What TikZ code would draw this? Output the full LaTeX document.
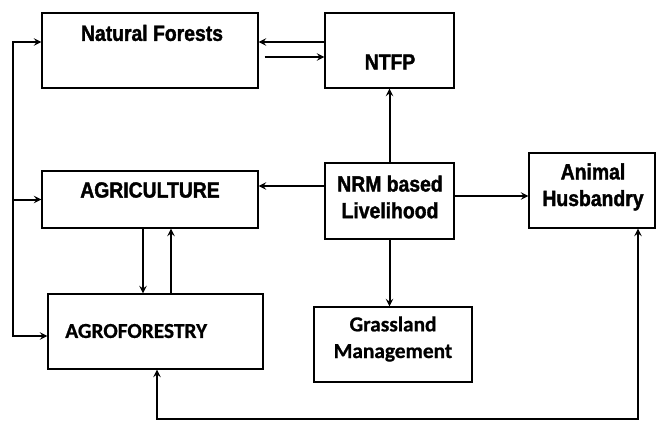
\documentclass[tikz,border=0pt]{standalone}
\usepackage{fontspec}
\setmainfont{Liberation Sans}
\newfontfamily\headfont{Liberation Sans}[FakeStretch=0.88, BoldFeatures={FakeBold=1.6}]
\newfontfamily\calfont{Carlito}[BoldFeatures={FakeBold=0.8}]
\tikzset{
  box/.style={draw, line width=0.8pt, inner sep=0pt},
  headtext/.style={font=\headfont\bfseries\fontsize{16.5}{20}\selectfont, align=center, inner sep=0pt},
  caltext/.style={font=\calfont\bfseries\fontsize{16}{20}\selectfont, align=center, inner sep=0pt},
  link/.style={->, line width=1.5pt}
}
\begin{document}
\begin{tikzpicture}[x=0.75pt,y=-0.75pt,>=stealth]
    \useasboundingbox (0,0) rectangle (656,421);
    % boxes
    \node[box, minimum width=162pt, minimum height=56.25pt] (forest) at (150,50.5) {};
    \node[box, minimum width=96.75pt, minimum height=56.25pt] (ntfp) at (389.5,50.5) {};
    \node[box, minimum width=162pt, minimum height=42.75pt] (agri) at (150,199.5) {};
    \node[box, minimum width=96.75pt, minimum height=57pt] (nrm) at (389.5,201) {};
    \node[box, minimum width=94.5pt, minimum height=56.25pt] (animal) at (592,190.5) {};
    \node[box, minimum width=161.25pt, minimum height=56.25pt] (agro) at (155.5,331.5) {};
    \node[box, minimum width=118.5pt, minimum height=56.25pt] (grass) at (393,344.5) {};
    % labels
    \node[headtext] (forestT) at (152,33) {Natural Forests};
    \node[headtext] (ntfpT) at (390,62) {NTFP};
    \node[headtext] (agriT) at (150,190) {AGRICULTURE};
    \node[headtext] (nrmT) at (390,197) {NRM based\\Livelihood};
    \node[headtext] (animalT) at (593,187) {Animal\\Husbandry};
    \node[caltext, anchor=west] (agroT) at (65,331) {AGROFORESTRY};
    \node[caltext] (grassT) at (393,339) {Grassland\\Management};
    % left feedback line
    \coordinate (lt) at (13,42);
    \coordinate (lb) at (13,336);
    \draw[link, <->] (forest.west |- lt) -- (lt) -- (lb) -- (agro.west |- lb);
    \draw[link] (lt |- agri.west) -- (agri.west);
    % forest and ntfp
    \draw[link] (ntfp.west |- 0,42) -- (forest.east |- 0,42);
    \draw[link] ([xshift=4.5pt]forest.east |- 0,57) -- (ntfp.west |- 0,57);
    % from nrm
    \draw[link] (nrm.north) -- (ntfp.south);
    \draw[link] (nrm.west |- 0,186) -- (agri.east |- 0,186);
    \draw[link] (nrm.east |- 0,196) -- (animal.west |- 0,196);
    \draw[link] (nrm.south) -- (nrm.south |- grass.north);
    % agriculture and agroforestry
    \draw[link] (agri.south -| 143,0) -- (agro.north -| 143,0);
    \draw[link] (agro.north -| 171,0) -- (agri.south -| 171,0);
    % bottom line
    \coordinate (bl) at (157,419);
    \coordinate (br) at (638,419);
    \draw[link, <->] (agro.south -| bl) -- (bl) -- (br) -- (animal.south -| br);
\end{tikzpicture}
\end{document}
